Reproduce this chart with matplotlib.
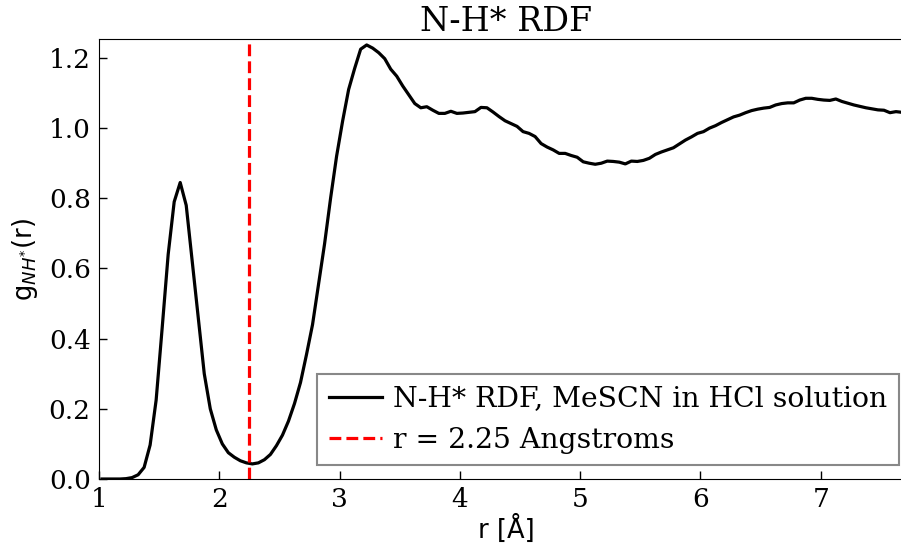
import numpy as np
import matplotlib
matplotlib.use("Agg")
import matplotlib.pyplot as plt

g_values = [
    0.0, 0.0, 0.0, 0.0, 0.001, 0.004, 0.012, 0.033, 0.097, 0.225,
    0.43, 0.64, 0.79, 0.845, 0.78, 0.62, 0.46, 0.30, 0.20, 0.14,
    0.10, 0.075, 0.062, 0.052, 0.046, 0.043, 0.046, 0.055, 0.07, 0.095,
    0.125, 0.165, 0.215, 0.275, 0.355, 0.44, 0.555, 0.67, 0.80, 0.92,
    1.02, 1.11, 1.17, 1.225, 1.237, 1.228, 1.215, 1.198, 1.168, 1.148,
    1.12, 1.095, 1.07, 1.058, 1.061, 1.051, 1.042, 1.042, 1.048, 1.042,
    1.043, 1.045, 1.047, 1.059, 1.058, 1.046, 1.033, 1.021, 1.013, 1.005,
    0.99, 0.985, 0.976, 0.956, 0.946, 0.938, 0.928, 0.928, 0.922, 0.917,
    0.904, 0.900, 0.897, 0.900, 0.906, 0.905, 0.903, 0.898, 0.906, 0.905,
    0.908, 0.914, 0.925, 0.932, 0.938, 0.944, 0.955, 0.966, 0.975, 0.985,
    0.99, 1.0, 1.007, 1.016, 1.024, 1.032, 1.037, 1.044, 1.05, 1.054,
    1.057, 1.059, 1.066, 1.07, 1.072, 1.072, 1.08, 1.085, 1.085, 1.082,
    1.080, 1.079, 1.083, 1.076, 1.071, 1.066, 1.062, 1.058, 1.055, 1.052,
    1.051, 1.044, 1.047, 1.045, 1.045, 1.043,
]
r_start = 1.025
r_step = 0.05
r_values = r_start + r_step * np.arange(len(g_values))
cutoff = 2.25

series_label = "N-H* RDF, MeSCN in HCl solution"
cutoff_label = "r = 2.25 Angstroms"
title = "N-H* RDF"
xlabel = "r [Å]"
ylabel = r"g$_{NH^{*}}$(r)"
xticks = [1, 2, 3, 4, 5, 6, 7]
yticks = [0.0, 0.2, 0.4, 0.6, 0.8, 1.0, 1.2]

fs = 19
fig = plt.figure(figsize=(9.01, 5.54), dpi=100)
left = 99 / 901
right = 913 / 901
bottom = (554 - 479) / 554
top = (554 - 39) / 554
ax = fig.add_axes([left, bottom, right - left, top - bottom])

ax.plot(r_values, g_values, color="black", lw=2.3, label=series_label)
ax.axvline(cutoff, color="red", ls="--", lw=2.3, label=cutoff_label)

ax.set_xlim(1, 1 + (913 - 99) / 120.3)
ax.set_ylim(0, 1.254)
ax.set_xticks(xticks)
ax.set_yticks(yticks)
ax.set_xticklabels([str(t) for t in xticks], family="DejaVu Serif", fontsize=fs)
ax.set_yticklabels([f"{t:.1f}" for t in yticks], family="DejaVu Serif", fontsize=fs)
ax.tick_params(direction="in", length=6, width=1, top=False, right=False, pad=6)

ax.set_title(title, family="DejaVu Serif", fontsize=24, pad=6)
ax.set_xlabel(xlabel, family="DejaVu Sans", fontsize=18.5, labelpad=2)
ax.set_ylabel(ylabel, family="DejaVu Sans", fontsize=18.5, labelpad=6)

leg = ax.legend(loc="lower right", prop={"family": "DejaVu Serif", "size": 20.3},
                fancybox=False, framealpha=1, edgecolor="#888888",
                borderaxespad=0.5, handlelength=1.9, handletextpad=0.4)
leg.get_frame().set_linewidth(1.5)

fig.savefig("out.png", dpi=100)
